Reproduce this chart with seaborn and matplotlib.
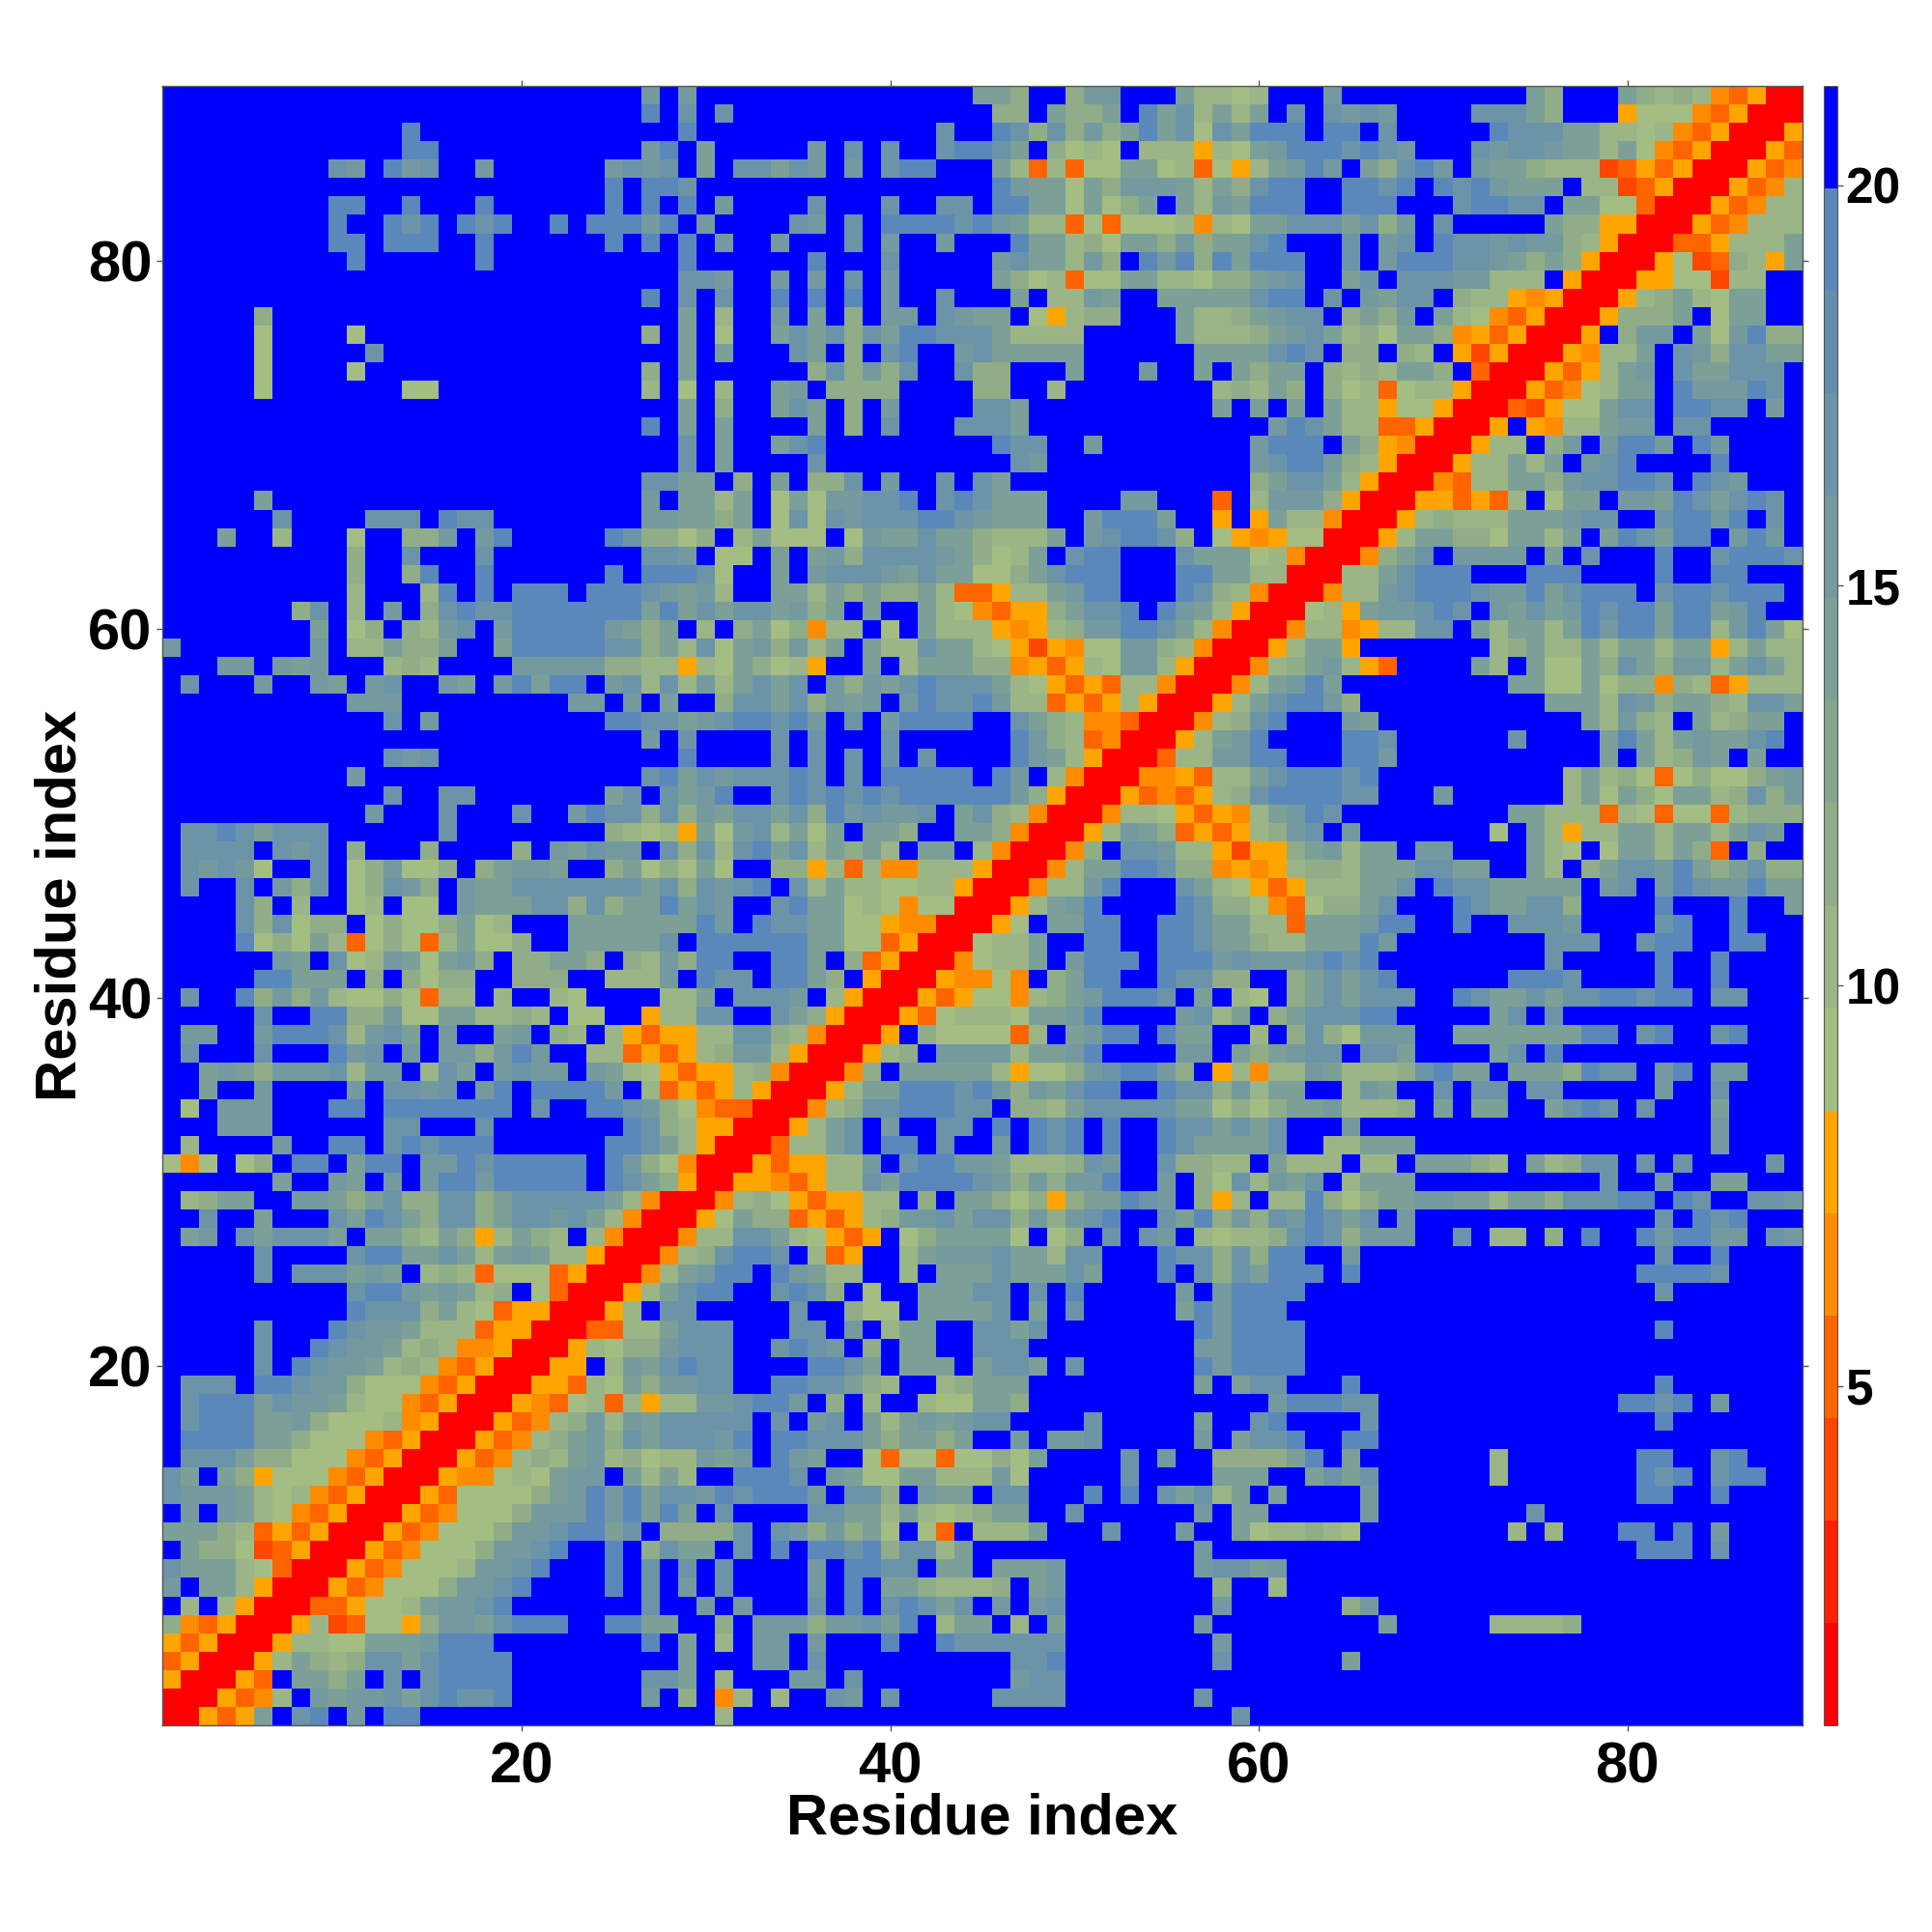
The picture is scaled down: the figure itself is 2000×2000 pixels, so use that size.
import re

import numpy as np
import pandas as pd
import seaborn as sns
import matplotlib.pyplot as plt
from matplotlib.colors import ListedColormap, BoundaryNorm

# cells per row, top row (residue 89) first, run-length coded: "3h" = hhh
# . blue | R P O N M reds/oranges | a..h green to steel blue
cols_01_29 = [
    "26.f.f", "26.h.g", "13.h14.h", "13.hh11.fh.", "9.gf.hfg2.f6.fgfg.", "24.h.hhg",
    "9.hh2.h3.h6.h.h.h", "9.h2.hgh.hgh2.h.hhhfh.", "9.hh.hhh2.h6.h.h.h", "10.h6.h10.h",
    "28.g", "26.h.g", "5.d22.e", "5.b4.b15.d.e", "5.b5.g16.e", "5.b4.b15.d.e",
    "5.b7.bb11.c.b", "28.e", "26.h.e", "28.g", "28.g", "26.gge", "5.e20.f.e",
    "6.g4.ggg.hgg8.ffe", "3.e2.c3.b2.ddf.fh5.hgddb", "10.d2.g3.g8.ggf", "10.d2.dh2.h6.h.hhh",
    "10.c3.ch.h.hhh.hhhgfe", "7.dg.c.f.dghgg7hehe", "8.e.bd.dcfg.f5hfede.",
    "f7.f.ccedde2.e5hggdec", "3.ff.fef3.cdc4.5fddccM", ".g3.f2.fe.fg2.fe.fhehh.fgcgc",
    "10.fff9.ff.f.e.", "12.g.f9.hhgge", "26.f.g", "12.gfg13.h", "10.f15.ghe",
    "12.g2.gg7.eg.ge", "11.f3.g3.g2.fhggdgd", ".gghgeggg6.g8.dcbcM", ".4g.gfg.d3.d4.d.fegff.gd",
    ".gfgfb2.g.bdfbbd.deffe2.debdb", ".g2.g.fdg.bdgfd.fee7gegd", "4.gd.c2.bc.bb.feeeggdgdeehe",
    "4.gdgbdd.bdbbdebc3.7e", "4.hbdbecObdbOcebbd2.5eg.", "6.fe.gbcfebefd.ddeed.dcfd",
    "5.hheee.d.dbdd2.ddd2.cccf.", ".g2.hdfdfcbbdbOcc.c2.cb4.cc", "5.g2.hhddfbbeeccdc.bb2.Mcc",
    ".ff2.fhhhgcfge.f2.ef.dc.cMOMM", ".g3.g3.hfg.f.ffdfhf2.ccOMOM", "2.efedfffgcff.cge.fgff.fecbMO",
    "2.e2.f4.f.ggfg.fh.4hf.cOM", ".b.fff3.hh.7h.g2.hhgfdb", "3.fff6.gg3.g7.hgdc",
    ".c4.f2.hh.ghg3h6.hhgec", "bNb.bd.hh.ehh.ffhg5h.hfdbN", "6.e2.fe.f.fhhf5h.hgedM",
    ".cdee2.ffedegddggde5gecNRR", "2.g2.e3.gehgedggdeggfgecN3R", ".ef.geggge.eedcedMcedc.cN3RN",
    "5.g4.ghheegecefeccM3RNc", "5.g.gggefe.cdcObbbOM3RNce", "10.ghhfefecd.bO3RMceg",
    "10.hgggdecbOMM3RMc.gg", "5.g3.hgffecccOMM3ROOcceg", "5.g2.hgffecdcNNM3RMcbddfg",
    "5.g.hgffecdcNOM3RMM.cfegh", ".ggg.hhgffdbbbNOM3RMMOcbedff", ".ghhhegffecbbNOM3RMNObcOcMcc",
    ".ghhheefdbbbcNM3RMONcdfcfegg", ".4heedbbbNOM3RMONcdefdgegg", ".gggeddbbbNOM3RMONcdcefcdbcc",
    "ge.edMbbbNOM3RMNNbcbeff.ecec", "gfffecbcNOM3RMO4bdefhfhegg", ".f.fecbNOM3RMONbbbdfffhfhehe",
    "eeedcOMOM3RMONbbbdffghheg.dd", ".eddbPOM3RMONbbbdffgh2.h.dge", "geeecbO3RMONbbbcffgh3.h.g.g",
    "f.eecM3RMONbbbdffgh4.h.g.f", ".c.cM3ROOMbbceffgh7.g2.", "dNOM3RMcPObbMdffeg3h2.hhee.",
    "MOM3RMccbbeeef3h8.h.e", "OM3RMcedcdggeg4h9.e", "M3RMO.eede.g.g4h7.gge",
    "3RMONc.feffgeghggh7.f.d", "2RMOMe.gh.f.hh15.",
]
cols_30_59 = [
    "15.eed2.dff3.eccb", ".g14.dd.edde.hegcec", "13.g2.hgdgdfdehegbge", "e5.f.g.g2.ghhge.dbcb.cccMcb",
    "e.ggegf.f.ghh3.ecOcObbeebcObM", "16.hfeebedfffeced", ".f4.g3.g2.gg.hheebebde.ecfe",
    "f4.gf.g.4hghfeccObObbbcNcb", ".f2.f3.g.f2.f3.heecdbeedfdee", "6.h3.g5.fgeecfd.hfhdhe",
    "gf2.f.f.g.f5.edbcObbeeccbdd", ".g2.h.h.h.f2.g3.e.ccfe2.5e", ".c2.f.e.d.ff.gfee.bMcdd3.eccd",
    ".b2.egegdgehhgggecccc5.eccc", ".e3.ge.d.gh2.fg5e6.3e", "6.dgdfdg2.gdd3.e3.f2.e.e",
    ".c2.ef.4d4.dd2.c8.cd", ".d2.ege.d.f4.gge10.e.", ".e4.e.d.g3.ggge12.", ".e2.egh9.hgg2.f8.",
    ".e4.g10.gf11.", "e.d.e.ddg.f2.g.ge13.", "ece.bebffggh.ghgeee4.ff3.O.",
    "ede.bgbgfggghhgfeee2.fhhhe2.M.", "d.cebbb.bfeegeedccce.fghhgd.bM", ".bb.e.efd4gfedbce.ghh3.geee",
    "gb2.e.fgggfegeebbdeg3h3.hhee", "fc2.eecededdecOOMccefhh3.hgdc", "geggefde.e2.ecbNOMMdeggh.hfecM",
    "c.debdNcc.b.ecccMNMcdffhhgecNR", "gbefdfce.eccgeecbMPMNbbffdcNRR", "cbedbcM2.e.ceeeddNMOMcbffcM3R",
    "fcegeg.fdfeghgggecbMOMOccN3RN", ".dggegdfef.fhgghfccOMOMcM3RMc", "fghhghf.g.f4h2.gedcNNO3RNcd",
    "4.g.g3.g6.hfdcON3RMcef", "4.g.g.g.g.g4.hfecM3ROccff", "gfggghg.g.5h.hf.cN3RNNMOcc",
    "fh2.ghghghg6hfdM3RMONOMcd", "feggegdhfgffg.egdcN3RNccbMOMN", "ebfgcebe.eed2.eedN3RMcfedOMOM",
    "gcghegcedec.ee.cN3RNd.ggfccMP", "eb2.ddMcOcNNcccM3RNceehhgddNM", "gfgh.gceccbbccM3RNccfh3.gecb",
    "gf2.gheebcbNbb3RMcefh4.hgdd", "hf.hggeebbMNN3RMb.eehh2.hhgee", "6heebbOM3Rbcce2.hh2.hhgee",
    "hh2.hhe.dOM3RNbcce.f3h.3hfg", "hgg.hhed.M3RMNNbN.dehh2.hggdd", "e.gggf.cM3RMOMbbNcdef3hg.e.c",
    "gg2.gedM3RMObcccbeefh4.fgce", "ccggdcN3RM.d4bOc.efhh.hee2.", "cdffcM3RMcd.4fceefh4.ff.e",
    "MMcdN3RNd.5ecMbbdfghhfd.Mc", "OMcM3RMcee3hghfdfeghh2.hggdf", "NOO3RNcdgg3hgg.ddce5geebd",
    "MM3RMceg.f2.gg.h.hgh.h2.hggeg", "M3ROcceg.hh.g2.f.hgh.h2.hgeee", "3RMOMMccf.ghhffe3cdgf2.gddcc",
    "RRMMNOMccge4hgfdfdffh2.f.dbg", "RNcdbMOMMcc.d.eedbdMdeehgf.dMc", "MbeddOMOMcdffgeggdfdfgh2.gehdf",
    "ccggecbMOM.bd4eb.ad.g.gf.cbc", "dghhg.cOM2.ce3fgeecgg3.hggdg", "fhh.hfecc2.c.3eg3ege3.h.gdg",
    "hh2.ghgd.b2.3egg.g.h5.f.fh", "5.g2.dbb.4eg.e.g5.ehfh", "gg3.gg.f.cee2.ggeg8.hfh",
    "gg2.ghgf.d.ee2.3g9.ffh", "gg4.hhge.3e.egge.g6.hfh", "gg2.hhggedc2.cd3e9.e.e",
    "ffghhf.d.c2.cbbeed12.", "ggg.g.fg.ecefefgg4.g5.e2.", "gfh.hh3gedeede2.f.ffg5.f.e",
    "fef.hfe2.bObbObbdbe4.g.f2.dd", "2.3hg.febbee3cfb5.g4.ee", "fhg3hf.ggd.fee.gg3.h.h.gegce",
    ".g4.ggeececbcdee2.g6.f.e", "ddg.gfdfdeb.bO.3ce3.g3.f2.e", "e.g.h.hhghdggce12.f2.",
    ".g4.f.hhgg.ee.3ef7.fgg", ".g4.f.h.eed3cd.ef8.d.", "f.f3.g.h.ghgeg.f.fg8.f.",
    ".d.3fdffgeh.cee.c.e7.f2.", ".c.ff.f3.h2.h6g8.f.", "3.ff.g10.ggh8.g.", ".c3.ff.g8.fgg10.",
    ".Nc.c2.gf.g5.4g7.g2.", ".c27.g",
]
cols_60_89 = [
    "c3.f10.ed3.edcdcNOMRR", "e.g.gfgf4.ggged3.M3bNOM3R", "3h.hh.g5.hgggeeccbcNOM3RM",
    "ef3hghgf3.gfggfeecebNOM3RMO", "cefhf.edghf.feed3cPOMOM3RMON", "ghh2.hhgh.hghf3e.ccPOM3RMONc",
    "3h2.3h3.ghhgg.eebbO3RMONcc", "ee3gegdf.g5.eddMM3RMON3c", "gh3.g.fg.hggfgffdcM3ROOM3ce",
    "3h2.g.f3hggfededM3RMbPOdcMe", "efg2.eg.3gff3c.M3RMMbbPcc2.", "ghh.g.fegg.dccMNM3RMcdecbee2.",
    "efgg.dedf.ecbNOM3RM3de.bee2.", "defgecdbeedNMOM3RM.dff.ebfhdd", "eghg.dd.dc.MPM3RMNcce.gfdggee",
    "dee.dcdceed.O3RMOMcef.gee3g.", "ced.dbcObccM3RMONbcee.h3fhg.", "e.e.eccMbbM3ROPMbbegg.hhgg.f.",
    ".fhgeccOOM3RM.MNcceff.gg5.", "f3h.edMN3RMcc.df.fhhf.hf4.", "fghhfdcM3RMccece.fgh4.h4.",
    "deggecM3RNOcceedfgghhg.hgf3.", "c3fdM3RMMOMOc.bee.ffehgeghg.", "MeccN3RMcd3c3efgg2.ghhfh.g.",
    "NMbb3RMceeddbeece.ehgehh.fhf.", "bcN3RNdeg.4f.e.g3.h2.g3hg", "cc3Rcceg3h3.3h4.h2.hh3.",
    "N3RNccfg3hgffheg3h.ghhg3h.", "3RbcMeffghg.fegefhghhehhefh2.", "RRNccNMccgg.eceecehfhhehhcfheb",
    "RMceeM7.cdecceceeceeMcecc", "NcdefcMO4.ec.ebbedgedffcegec", "cefhe9.eebbeaddNdcOM3c",
    "eghhfd10.3ecgfdeedcgge", "gh3.fe11.ecfdc.ecdee.", "h4.hhg6.g4.ehecefeegh.",
    "hh3.hhf11.e.ecdfe.e2.", "eg3hgh10.cecdbObdbbdef", "g4hgg3.f6.cebedbeecdgdf",
    "cefhg9.ee3cOcbObbOc3d", "cdfg.f7.b.ecMcceeceecegf.", "MMdefcee.ff4.ecb.beecedO.d2.",
    "NMcddc3eggee2.ec.deggfhedegdd", "MOM3ceeg.hgg5e.fg.fhgffhee", "bNObddeg3.hgeeggd4.h3.h2.e",
    "ccO3efhh2.h2.3gf4.gh2.h3.", "dcc3ehf8.3g2.ghh2.hh2.", "3fghgh9.g5.h2.h4.",
    "2.degegh6.3hg4.h2.h4.", "b.dege3g2.hgeegegghhghh.gg3.", ".de3ghh5.eg.g13.",
    "c.dgdb3f2.7ehh.gh2.gh3.", "defgg.gge4.eg.h13.", "Nccfe3cdghee.3edhgg.fh.ff3.",
    "cee2.cfe2.g.gg.gg5.f2.g4.", "bdeef3cd.e.ee2.eghg.g3.e4.", "eg3.f19.f4.", "eg2.cc3e16.f4.",
    ".e3c.cc.3edc.ecdgg.g.g4.g.", "cfeg.c3e10.g2.f2.ee3.", ".cchdadeeffeeceedggghh.hg2.ggf",
    "dgfhgeg.f13.g.hgh3.", "cdghgd3f2.g.cc.d.h2.hfhhff.gf", "dhh2.f16.g2.h4.", "e3h.h15.4hg4.",
    "3h19.g7.", "2h28.", "3h19.h7.", "3h27.", "3h27.", "gg3.h16.h7.", ".f3hgg13.hhgh.f4.",
    "gh4.g15.h7.", "ggh2.hh23.", "ddeh.e7.c7.hh2.gh3.", "e2.egeg6.c7.hgh.ghh2.", ".e4.f14.hh2.h4.",
    "e5.f8.g14.", "bccdcb8.c.c3.hh.h.f4.", "21.3h.g4.", "ef28.", ".c28.", "5.df23.", "7.e5.4cd12.",
    "30.", "5.e24.", "30.", "30.", "30.",
]

# distance for each cell code
code_values = {"R": 1.4, "P": 4.0, "O": 5.2, "N": 6.5, "M": 7.8, "a": 9.1, "b": 9.1, "c": 10.4,
               "d": 11.6, "e": 14.2, "f": 15.5, "g": 16.8, "h": 19.3, ".": 21.0}

palette = ["#ff0000", "#ff2000", "#ff4500", "#ff6400", "#ff8c00", "#ffa500", "#a4bd82", "#9bb587",
           "#90ad88", "#84a68f", "#7ca097", "#749aa0", "#6b94a8", "#628eb0", "#5a88ba", "#0000ff"]
levels = np.linspace(0.76, 21.24, 17)
residue_ticks = [20, 40, 60, 80]
cbar_ticks = [5, 10, 15, 20]


def expand(coded, width, name):
    out = "".join(ch * int(n or 1) for n, ch in re.findall(r"(\d*)(\D)", coded))
    if len(out) != width:
        raise ValueError(f"{name}: {coded} has {len(out)} cells, not {width}")
    return out


rows = []
for i, (a, b, c) in enumerate(zip(cols_01_29, cols_30_59, cols_60_89)):
    line = expand(a, 29, f"left {i + 1}") + expand(b, 30, f"mid {i + 1}") + expand(c, 30, f"right {i + 1}")
    rows.append([code_values[ch] for ch in line])

residues = list(range(1, 90))
df = pd.DataFrame(rows, index=residues[::-1], columns=residues)

sns.set_theme(style="white")
plt.rcParams["font.family"] = ["Liberation Sans"]
plt.rcParams["font.weight"] = "bold"
plt.rcParams["text.color"] = "black"
plt.rcParams["axes.labelcolor"] = "black"
plt.rcParams["xtick.labelcolor"] = "black"
plt.rcParams["ytick.labelcolor"] = "black"

fig = plt.figure(figsize=(10, 10), dpi=200)
ax = fig.add_axes([0.084, 0.107, 0.849, 0.8485])
cax = fig.add_axes([0.944, 0.107, 0.007, 0.8485])

sns.heatmap(df, ax=ax, cbar_ax=cax, cmap=ListedColormap(palette), norm=BoundaryNorm(levels, len(palette)),
            xticklabels=False, yticklabels=False, cbar_kws={"ticks": cbar_ticks})

ax.set_xticks([t - 0.5 for t in residue_ticks])
ax.set_xticklabels(residue_ticks)
ax.set_yticks([89.5 - t for t in residue_ticks])
ax.set_yticklabels(residue_ticks, rotation=0)
ax.tick_params(axis="x", labelsize=21.5, length=2, width=0.5, color="#555555", top=True, bottom=True, pad=4)
ax.tick_params(axis="y", labelsize=21.5, length=2, width=0.5, color="#555555", left=True, right=True, pad=1.7)
ax.set_xlabel("Residue index", fontsize=21.5, fontweight="bold", labelpad=-0.7)
ax.set_ylabel("Residue index", fontsize=21.5, fontweight="bold", labelpad=0.3)
for side in ax.spines.values():
    side.set_visible(True)
    side.set_linewidth(0.5)
    side.set_color("#555555")

cbar = ax.collections[0].colorbar
cbar.minorticks_off()
cbar.ax.tick_params(labelsize=18.5, length=2, width=0.5, color="#555555", pad=1)
cbar.outline.set_linewidth(0.4)
cbar.outline.set_edgecolor("#555555")

fig.savefig("out.png", dpi=200)
